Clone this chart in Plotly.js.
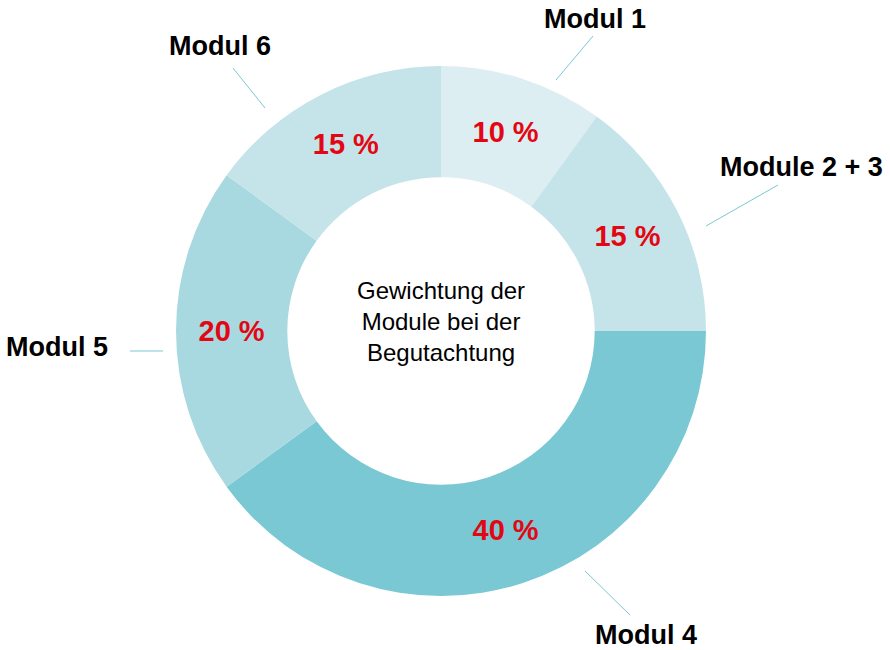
<!DOCTYPE html>
<html>
<head>
<meta charset="utf-8">
<script src="https://cdn.plot.ly/plotly-3.0.1.min.js"></script>
<style>html,body{margin:0;padding:0;background:#fff;}#chart{width:890px;height:650px;}</style>
</head>
<body>
<div id="chart"></div>
<script>
// Data
const categories = ["Modul 1", "Module 2 + 3", "Modul 4", "Modul 5", "Modul 6"];
const values = [10, 15, 40, 20, 15];
const valueLabels = ["10 %", "15 %", "40 %", "20 %", "15 %"];
const sliceColors = ["#ddeef2", "#c4e4e9", "#79c8d4", "#a9d9e0", "#c4e4e9"];
const centerTitle = "Gewichtung der<br>Module bei der<br>Begutachtung";

// Geometry of the donut in pixels (layout only)
const W = 890, H = 650;
const cx = 441, cy = 331, R = 265;
const holeFrac = 0.58;

const trace = {
  type: "pie",
  labels: categories,
  values: values,
  text: valueLabels,
  textinfo: "text",
  texttemplate: "%{text}",
  textposition: "inside",
  insidetextorientation: "horizontal",
  textfont: {family: "Liberation Sans, Arial, sans-serif", size: 29, color: "#e30613", weight: "bold"},
  marker: {colors: sliceColors, line: {width: 0}},
  hole: holeFrac,
  sort: false,
  direction: "clockwise",
  rotation: 0,
  showlegend: false,
  hoverinfo: "label+percent",
  domain: {x: [(cx - R) / W, (cx + R) / W], y: [(H - cy - R) / H, (H - cy + R) / H]}
};

const labelFont = {family: "Liberation Sans, Arial, sans-serif", size: 27, color: "#000", weight: "bold"};
const leaderColor = "#79c8d4";
const outside = [
  {lbl: [595, 19], line: [[556, 80], [593, 36]]},
  {lbl: [801, 167], line: [[706, 226], [778, 185]]},
  {lbl: [646, 635], line: [[585, 571], [630, 615]]},
  {lbl: [57, 347], line: [[130, 351], [163, 351]]},
  {lbl: [220, 46], line: [[233, 68], [265, 108]]}
];
const px = x => x / W;
const py = y => 1 - y / H;

const annotations = categories.map((c, i) => ({
  text: "<b>" + c + "</b>",
  x: px(outside[i].lbl[0]), y: py(outside[i].lbl[1]),
  xref: "paper", yref: "paper", xanchor: "center", yanchor: "middle",
  showarrow: false, font: labelFont
}));
annotations.push({
  text: centerTitle, x: px(cx), y: py(cy - 9), xref: "paper", yref: "paper",
  xanchor: "center", yanchor: "middle", showarrow: false,
  font: {family: "Liberation Sans, Arial, sans-serif", size: 24, color: "#000"}
});
const shapes = outside.map(o => ({
  type: "line", xref: "paper", yref: "paper",
  x0: px(o.line[0][0]), y0: py(o.line[0][1]), x1: px(o.line[1][0]), y1: py(o.line[1][1]),
  line: {color: leaderColor, width: 1}
}));

const layout = {
  width: W, height: H,
  margin: {l: 0, r: 0, t: 0, b: 0},
  paper_bgcolor: "#fff", plot_bgcolor: "#fff",
  annotations: annotations,
  shapes: shapes
};

Plotly.newPlot("chart", [trace], layout, {displayModeBar: false, staticPlot: true});
</script>
</body>
</html>
